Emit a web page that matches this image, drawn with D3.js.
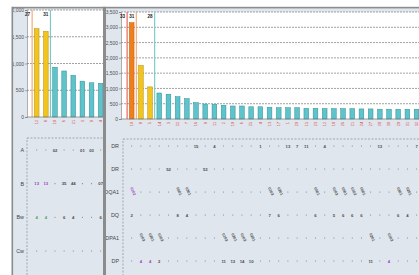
<!DOCTYPE html>
<html>
<head>
<meta charset="utf-8">
<script src="https://cdn.jsdelivr.net/npm/d3@7"></script>
<style>
  body { margin: 0; background: #fff; }
  text { font-family: "Liberation Sans", Arial, sans-serif; }
</style>
</head>
<body>
<svg id="chart" width="419" height="275"></svg>
<script>
// left panel (class I)
const leftCols = ["12", "8", "18", "6", "21", "3", "9", "4"];
const leftValues = [1650, 1600, 930, 860, 780, 670, 640, 630];
const leftGroups = ["y", "y", "t", "t", "t", "t", "t", "t"];
const leftTicks = [0, 500, 1000, 1500, 2000];
const leftRows = ["A", "B", "Bw", "Cw"];
const leftCells = [
  [0, 2, "02"], [0, 5, "01"], [0, 6, "03"],
  [1, 0, "13", "p"], [1, 1, "13", "p"], [1, 3, "35"], [1, 4, "44"], [1, 7, "07"],
  [2, 0, "4", "g"], [2, 1, "4", "g"], [2, 3, "6"], [2, 4, "4"], [2, 7, "6"]
];
const leftMarks = [["27", -0.5, "o"], ["31", 1.5, "t"]];

// main panel (class II)
const mainCols = ["10", "8", "5", "14", "3", "22", "7", "16", "9", "11", "2", "19", "6", "25", "4", "13",
  "17", "1", "20", "15", "23", "12", "18", "26", "21", "24", "27", "28", "30", "29", "31", "32"];
const mainValues = [3150, 1750, 1050, 850, 810, 730, 665, 535, 490, 480, 450, 425, 425, 400, 400, 385,
  370, 370, 370, 350, 350, 340, 340, 340, 340, 330, 330, 320, 320, 320, 320, 320];
const mainGroups = ["o", "y", "y"].concat(mainCols.slice(3).map(() => "t"));
const mainTicks = [0, 500, 1000, 1500, 2000, 2500, 3000, 3500];
const mainRows = ["DR", "DR", "DQA1", "DQ", "DPA1", "DP"];
const mainCells = [
  [0, 7, "15"], [0, 9, "4"], [0, 14, "1"], [0, 17, "13"], [0, 18, "7"], [0, 19, "11"], [0, 21, "4"], [0, 27, "13"], [0, 31, "7"],
  [1, 4, "52"], [1, 8, "53"],
  [2, 0, "0102", "p"], [2, 5, "0501"], [2, 6, "0301"], [2, 15, "0103"], [2, 16, "0201"], [2, 20, "0501"],
  [2, 22, "0103"], [2, 23, "0501"], [2, 24, "0102"], [2, 25, "0501"], [2, 29, "0301"], [2, 30, "0201"],
  [3, 0, "2"], [3, 5, "8"], [3, 6, "4"], [3, 15, "7"], [3, 16, "6"], [3, 20, "6"], [3, 22, "5"], [3, 23, "6"],
  [3, 24, "6"], [3, 25, "6"], [3, 29, "6"], [3, 30, "4"],
  [4, 1, "0103"], [4, 2, "0201"], [4, 3, "0103"], [4, 10, "0103"], [4, 11, "0201"], [4, 12, "0103"],
  [4, 13, "0201"], [4, 26, "0201"], [4, 28, "0103"],
  [5, 1, "4", "p"], [5, 2, "4", "p"], [5, 3, "2"], [5, 10, "11"], [5, 11, "13"], [5, 12, "14"], [5, 13, "10"],
  [5, 26, "11"], [5, 28, "4", "p"]
];
const mainMarks = [["33", -0.5, "r"], ["31", 0.5, "o"], ["28", 2.5, "t"]];

const barFill = { o: "#ef7f1c", y: "#f2c41e", t: "#5ec3cb" };
const barStroke = { o: "#b9590c", y: "#b48f0c", t: "#2e8f97" };
const lineColor = { r: "#e25a50", o: "#f3a56c", t: "#72c9c2" };
const cellColor = { p: "#9a3fc2", g: "#49a846" };

const svg = d3.select("#chart");

svg.append("rect")
  .attr("x", 12).attr("y", 8)
  .attr("width", 407).attr("height", 267)
  .attr("fill", "#dfe6ee");

function drawPanel(o) {
  const clipId = "clip-" + o.name;
  svg.append("clipPath").attr("id", clipId)
    .append("rect")
    .attr("x", o.clip[0]).attr("y", 8)
    .attr("width", o.clip[1] - o.clip[0]).attr("height", 267);

  const g = svg.append("g").attr("clip-path", `url(#${clipId})`);
  const n = o.cols.length;
  const pi = 0.49;

  const x = d3.scaleBand()
    .domain(d3.range(n))
    .range([o.x0, o.x0 + o.step * (n - pi + 2 * o.outer)])
    .paddingInner(pi)
    .paddingOuter(o.outer);
  const cx = (i) => x(0) + x.bandwidth() / 2 + i * x.step();

  const y = d3.scaleLinear()
    .domain([0, d3.max(o.ticks)])
    .range([o.yBase, o.yTop]);

  // white plot area
  g.append("rect")
    .attr("x", o.x0).attr("y", o.yTop)
    .attr("width", o.clip[1] - o.x0).attr("height", o.yBase - o.yTop)
    .attr("fill", "#fff");

  // grid
  g.append("g").selectAll("line")
    .data(o.ticks.filter((t) => t > 0))
    .join("line")
    .attr("x1", o.x0).attr("x2", o.clip[1])
    .attr("y1", (d) => y(d)).attr("y2", (d) => y(d))
    .attr("stroke", "#8a8a8a")
    .attr("stroke-width", 0.8)
    .attr("stroke-dasharray", "2,1");

  // y axis
  const ax = g.append("g")
    .attr("transform", `translate(${o.x0},0)`)
    .call(d3.axisLeft(y).tickValues(o.ticks).tickSize(2).tickPadding(1));
  ax.selectAll("text").attr("font-size", 4.9).attr("fill", "#505050");
  ax.selectAll("line, path").attr("stroke", "#777").attr("stroke-width", 0.6);

  // group marker lines + labels
  o.marks.forEach(([lab, pos, c]) => {
    const lx = cx(pos);
    g.append("line")
      .attr("x1", lx).attr("x2", lx)
      .attr("y1", o.yTop).attr("y2", o.yBase)
      .attr("stroke", lineColor[c])
      .attr("stroke-width", 1.1);
    g.append("text")
      .attr("x", lx - 2).attr("y", o.yTop + 5.5)
      .attr("text-anchor", "end")
      .attr("font-size", 4.6)
      .attr("font-weight", "bold")
      .attr("fill", "#222")
      .text(lab);
  });

  // bars
  g.append("g").selectAll("rect")
    .data(o.values)
    .join("rect")
    .attr("x", (d, i) => x(i))
    .attr("y", (d) => y(d))
    .attr("width", x.bandwidth())
    .attr("height", (d) => o.yBase - y(d))
    .attr("fill", (d, i) => barFill[o.groups[i]])
    .attr("stroke", (d, i) => barStroke[o.groups[i]])
    .attr("stroke-width", 0.5);

  // baseline
  g.append("line")
    .attr("x1", o.x0).attr("x2", o.clip[1])
    .attr("y1", o.yBase).attr("y2", o.yBase)
    .attr("stroke", "#777").attr("stroke-width", 0.7);

  // red column ids
  g.append("g").selectAll("text")
    .data(o.cols)
    .join("text")
    .attr("transform", (d, i) => `translate(${cx(i) + 1.3},${o.yBase + 3}) rotate(-90)`)
    .attr("text-anchor", "end")
    .attr("font-size", 3.8)
    .attr("fill", "#e2403a")
    .text((d) => d);

  // matrix box
  g.append("rect")
    .attr("x", o.boxLeft).attr("y", o.boxTop)
    .attr("width", 500).attr("height", 300)
    .attr("fill", "none")
    .attr("stroke", "#8d8d8d")
    .attr("stroke-width", 0.7)
    .attr("stroke-dasharray", "2,1.5");

  const ry = d3.scalePoint().domain(d3.range(o.rows.length)).range(o.rowRange);

  g.append("g").selectAll("text")
    .data(o.rows)
    .join("text")
    .attr("x", o.labelX)
    .attr("y", (d, i) => ry(i) + 2)
    .attr("text-anchor", "end")
    .attr("font-size", 5.4)
    .attr("fill", "#444")
    .text((d) => d);

  const lookup = new Map(o.cells.map((c) => [c[0] + "-" + c[1], c]));
  const grid = [];
  o.rows.forEach((r, ri) => o.cols.forEach((c, ci) => grid.push([ri, ci])));

  g.append("g").selectAll("circle")
    .data(grid.filter(([r, c]) => !lookup.has(r + "-" + c)))
    .join("circle")
    .attr("cx", ([r, c]) => cx(c))
    .attr("cy", ([r, c]) => ry(r))
    .attr("r", 0.55)
    .attr("fill", "#7a7a7a");

  g.append("g").selectAll("text")
    .data(o.cells)
    .join("text")
    .attr("transform", (d) => {
      const rot = o.rotRows.includes(d[0]);
      return rot
        ? `translate(${cx(d[1]) - 1.5},${ry(d[0]) - 4}) rotate(65)`
        : `translate(${cx(d[1])},${ry(d[0]) + 1.5})`;
    })
    .attr("text-anchor", (d) => (o.rotRows.includes(d[0]) ? "start" : "middle"))
    .attr("font-size", (d) => (o.rotRows.includes(d[0]) ? 3.8 : 4.2))
    .attr("font-weight", "bold")
    .attr("fill", (d) => cellColor[d[3]] || "#4a4a4a")
    .text((d) => d[2]);
}

drawPanel({
  name: "left", clip: [13, 103],
  cols: leftCols, values: leftValues, groups: leftGroups, ticks: leftTicks,
  marks: leftMarks, rows: leftRows, cells: leftCells, rotRows: [],
  x0: 27, step: 9.14, outer: 0.806, yTop: 10, yBase: 117,
  boxLeft: 27, boxTop: 138, rowRange: [150, 251], labelX: 24
});

drawPanel({
  name: "main", clip: [106, 419],
  cols: mainCols, values: mainValues, groups: mainGroups, ticks: mainTicks,
  marks: mainMarks, rows: mainRows, cells: mainCells, rotRows: [2, 4],
  x0: 121, step: 9.19, outer: 0.909, yTop: 12, yBase: 119,
  boxLeft: 123, boxTop: 139, rowRange: [146, 261], labelX: 119
});

// frame
svg.append("rect").attr("x", 12).attr("y", 6.8).attr("width", 407).attr("height", 1.6).attr("fill", "#8c8c8c");
svg.append("rect").attr("x", 11.5).attr("y", 6.8).attr("width", 1.6).attr("height", 269).attr("fill", "#8c8c8c");
svg.append("rect").attr("x", 103).attr("y", 6.8).attr("width", 3).attr("height", 269).attr("fill", "#8c8c8c");
</script>
</body>
</html>
